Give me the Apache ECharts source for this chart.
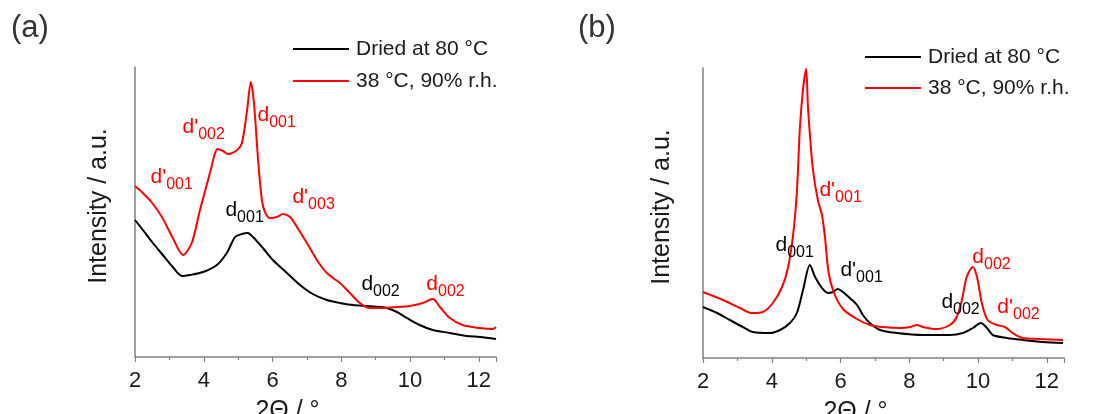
<!DOCTYPE html>
<html><head><meta charset="utf-8">
<script src="https://cdn.jsdelivr.net/npm/echarts@6/dist/echarts.min.js"></script>
<style>html,body{margin:0;padding:0;background:#fff}#c{width:1096px;height:414px}</style>
</head><body><div id="c"></div>
<script>
// ---------- data ----------
const seriesNames = ['Dried at 80 °C', '38 °C, 90% r.h.'];
const panelTitles = ['(a)', '(b)'];
const xAxisTitle = '2Θ / °';
const yAxisTitle = 'Intensity / a.u.';

// Panel (a) — dried at 80 °C
const aDriedX = [2.00,2.23,2.52,2.81,3.10,3.37,3.60,3.98,4.38,4.67,4.91,5.11,5.28,5.43,5.72,6.01,6.42,6.80,7.17,7.58,7.96,8.34,8.74,9.12,9.33,9.62,9.91,10.28,10.66,11.16,11.65,12.03,12.50];
const aDriedY = [137,127,114,102,90,81,82,85,92,104,120,123,124,120,109,97,84,72,63,57,54,52,51,50,49,45,39,32,27,24,21,20,18];
// Panel (a) — 38 °C, 90% r.h.
const aHumidX = [2.00,2.20,2.50,2.80,3.10,3.40,3.65,3.89,4.18,4.33,4.41,4.56,4.70,4.97,5.11,5.26,5.37,5.46,5.58,5.69,5.78,5.92,6.13,6.30,6.51,6.71,7.00,7.29,7.58,7.96,8.25,8.54,8.83,9.21,9.62,9.99,10.37,10.66,10.87,11.16,11.53,12.03,12.41,12.50];
const aHumidY = [171,165,154,139,119,102,114,147,184,204,208,206,203,207,214,247,275,254,197,157,145,139,140,143,140,130,114,97,84,74,64,54,49,49,50,51,54,58,50,39,32,29,28,30];

// Panel (b) — dried at 80 °C
const bDriedX = [2.00,2.41,2.78,3.16,3.45,3.95,4.24,4.53,4.73,4.91,5.11,5.26,5.46,5.63,5.78,5.92,6.07,6.27,6.48,6.65,6.85,7.15,7.64,8.40,9.18,9.56,9.85,10.08,10.26,10.43,10.84,11.30,11.88,12.47];
const bDriedY = [51,45,38,31,26,25,28,35,45,68,93,81,70,65,66,69,66,60,53,43,35,28,25,23,23,25,30,35,30,23,20,18,16,15];
// Panel (b) — 38 °C, 90% r.h.
const bHumidX = [2.00,2.58,3.08,3.42,3.74,4.03,4.30,4.47,4.62,4.73,4.82,4.91,5.00,5.05,5.11,5.20,5.34,5.46,5.55,5.65,5.80,6.07,6.48,6.85,7.23,7.73,8.02,8.22,8.40,8.80,9.18,9.38,9.53,9.67,9.85,9.97,10.11,10.28,10.55,10.78,11.01,11.30,11.80,12.47];
const bHumidY = [66,58,50,45,46,55,71,90,123,166,231,269,289,253,223,188,158,143,120,86,66,49,39,33,31,30,31,33,31,29,33,41,58,81,91,81,55,38,33,31,25,20,19,18];

// Peak annotations: [main, subscript, 2Θ, intensity]
const aDriedLabels = [["d","001",4.645,157],["d","002",8.599,83]];
const aHumidLabels = [["d'","001",2.465,190],["d'","002",3.395,240],["d","001",5.576,252],["d'","003",6.593,170],["d","002",10.488,83]];
const bDriedLabels = [["d","001",4.122,123],["d'","001",6.012,98],["d","002",8.948,66]];
const bHumidLabels = [["d","001",3.715,306],["d'","001",5.401,178],["d","002",9.849,111],["d'","002",10.576,61]];

// ---------- chart ----------
const FONT = "'Liberation Sans', Arial, Helvetica, sans-serif";
const TXT = '#1a1a1a';
const AX = '#808080';
const COLORS = ['#000000', '#ff0000'];

function pairs(xs, ys) { return xs.map((x, i) => [x, ys[i]]); }

function marks(list, color) {
  return {
    symbol: 'circle', symbolSize: 1, silent: true, animation: false,
    itemStyle: { color: 'rgba(0,0,0,0)' },
    label: {
      show: true, position: [0, 0], align: 'left', verticalAlign: 'top',
      rich: {
        m: { fontFamily: FONT, fontSize: 21, lineHeight: 22, color: color, verticalAlign: 'top' },
        s: { fontFamily: FONT, fontSize: 16, lineHeight: 17, padding: [10, 0, 0, 0], color: color, verticalAlign: 'top' }
      }
    },
    data: list.map(a => ({
      coord: [a[2], a[3]],
      label: { formatter: '{m|' + a[0] + '}{s|' + a[1] + '}' }
    }))
  };
}

function line(name, idx, xs, ys, labels, color) {
  return {
    type: 'line', name: name, xAxisIndex: idx, yAxisIndex: idx,
    data: pairs(xs, ys), showSymbol: false, symbol: 'none', smooth: 0.3,
    lineStyle: { color: color, width: 2 }, itemStyle: { color: color },
    emphasis: { disabled: true },
    markPoint: marks(labels, color), z: color === '#ff0000' ? 3 : 2
  };
}

function xAxis(idx) {
  return {
    gridIndex: idx, type: 'value', min: 2, max: 12.5, interval: 2,
    axisLine: { show: true, onZero: false, lineStyle: { color: AX, width: 1.5 } },
    axisTick: { show: true, inside: false, length: 5, lineStyle: { color: AX, width: 1.2 } },
    minorTick: { show: true, splitNumber: 2, length: 3, lineStyle: { color: AX, width: 1.2 } },
    axisLabel: { fontFamily: FONT, fontSize: 22, color: TXT, margin: 13 },
    splitLine: { show: false }, minorSplitLine: { show: false },
    name: xAxisTitle, nameLocation: 'middle', nameGap: 42,
    nameTextStyle: { fontFamily: FONT, fontSize: 25, color: TXT, verticalAlign: 'top', padding: [0, 56, 0, 0] }
  };
}

function yAxis(idx, gap) {
  return {
    gridIndex: idx, type: 'value', min: 0, max: 290,
    axisLine: { show: true, lineStyle: { color: AX, width: 1.5 } },
    axisTick: { show: false }, axisLabel: { show: false }, splitLine: { show: false },
    name: yAxisTitle, nameLocation: 'middle', nameGap: gap,
    nameTextStyle: { fontFamily: FONT, fontSize: 25, color: TXT, padding: [0, 0, 0, 12] }
  };
}

function legend(name, left, top) {
  return {
    data: [name], left: left, top: top, padding: 0, icon: 'rect',
    itemWidth: 56, itemHeight: 2, selectedMode: false,
    textStyle: { fontFamily: FONT, fontSize: 21, color: TXT, lineHeight: 22, padding: [0, 0, 0, 2] }
  };
}

const chart = echarts.init(document.getElementById('c'), null, { renderer: 'canvas' });
chart.setOption({
  animation: false,
  backgroundColor: '#ffffff',
  grid: [
    { left: 135, top: 67, width: 361, height: 290, containLabel: false, outerBoundsMode: 'none' },
    { left: 703, top: 68, width: 361, height: 290, containLabel: false, outerBoundsMode: 'none' }
  ],
  xAxis: [xAxis(0), xAxis(1)],
  yAxis: [yAxis(0, 23), yAxis(1, 28)],
  legend: [
    legend(seriesNames[0], 293, 38), legend(seriesNames[1], 293, 70),
    legend(seriesNames[0], 865, 46), legend(seriesNames[1], 865, 77)
  ],
  graphic: [
    { type: 'text', left: 11, top: 13, style: { text: panelTitles[0], fontFamily: FONT, fontSize: 31, fill: '#333' } },
    { type: 'text', left: 578, top: 13, style: { text: panelTitles[1], fontFamily: FONT, fontSize: 31, fill: '#333' } }
  ],
  series: [
    line(seriesNames[0], 0, aDriedX, aDriedY, aDriedLabels, COLORS[0]),
    line(seriesNames[1], 0, aHumidX, aHumidY, aHumidLabels, COLORS[1]),
    line(seriesNames[0], 1, bDriedX, bDriedY, bDriedLabels, COLORS[0]),
    line(seriesNames[1], 1, bHumidX, bHumidY, bHumidLabels, COLORS[1])
  ]
});
</script>
</body></html>
